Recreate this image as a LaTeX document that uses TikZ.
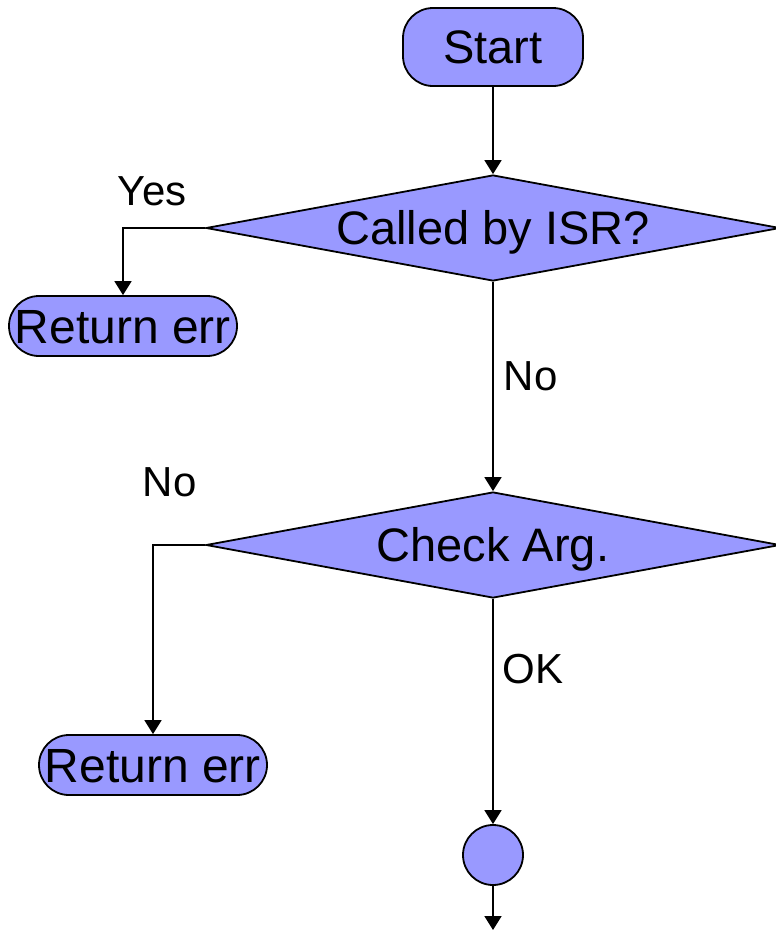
\documentclass[tikz,border=0pt]{standalone}
\usepackage{fontspec}
\setmainfont{Liberation Sans}
\usetikzlibrary{shapes.geometric,arrows.meta}
\definecolor{boxfill}{HTML}{9999FF}
\begin{document}
\begin{tikzpicture}[x=1pt,y=-1pt,
  line width=1.8pt,
  flow/.style={-{Triangle[width=17pt,length=14pt]}},
  term/.style={draw, fill=boxfill, rounded corners=#1, inner sep=0pt},
  decision/.style={draw, fill=boxfill, diamond, inner sep=0pt,
                   minimum width=574pt, minimum height=106pt},
  bigtext/.style={font=\fontsize{47}{50}\selectfont, text height=33.6pt, text depth=0pt},
  errtext/.style={font=\fontsize{48}{52}\selectfont, text height=34.4pt, text depth=0pt},
  smalltext/.style={font=\fontsize{42}{46}\selectfont, inner sep=0pt, anchor=base west}
]
% page area
\useasboundingbox[fill=white] (0,0) rectangle (776,930);

% flow elements
\node[term=30pt, bigtext, minimum width=180pt, minimum height=78pt] (start) at (493,47) {Start};
\node[decision, label={[bigtext, inner sep=0pt]center:Called by ISR?}] (isr) at (493,228) {};
\node[term=30pt, errtext, minimum width=228pt, minimum height=60pt] (err1) at (123,326) {Return err};
\node[decision, label={[bigtext, inner sep=0pt]center:Check Arg.}] (arg) at (493,545) {};
\node[term=30pt, errtext, minimum width=228pt, minimum height=60pt] (err2) at (153,765) {Return err};
\node[circle, draw, fill=boxfill, minimum size=60pt, inner sep=0pt] (join) at (493,855) {};
\coordinate (out) at (493,930);

% branch labels
\node[smalltext] (yes) at (117,205) {Yes};
\node[smalltext] (no1) at (503,390) {No};
\node[smalltext] (no2) at (142,496) {No};
\node[smalltext] (ok)  at (502,683) {OK};

% connectors
\draw[flow] (start.south) -- (isr.north);
\draw[flow] (isr.west) -| (err1.north);
\draw[flow] (isr.south) -- (arg.north);
\draw[flow] (arg.west) -| (err2.north);
\draw[flow] (arg.south) -- (join.north);
\draw[flow] (join.south) -- (out);
\end{tikzpicture}
\end{document}
